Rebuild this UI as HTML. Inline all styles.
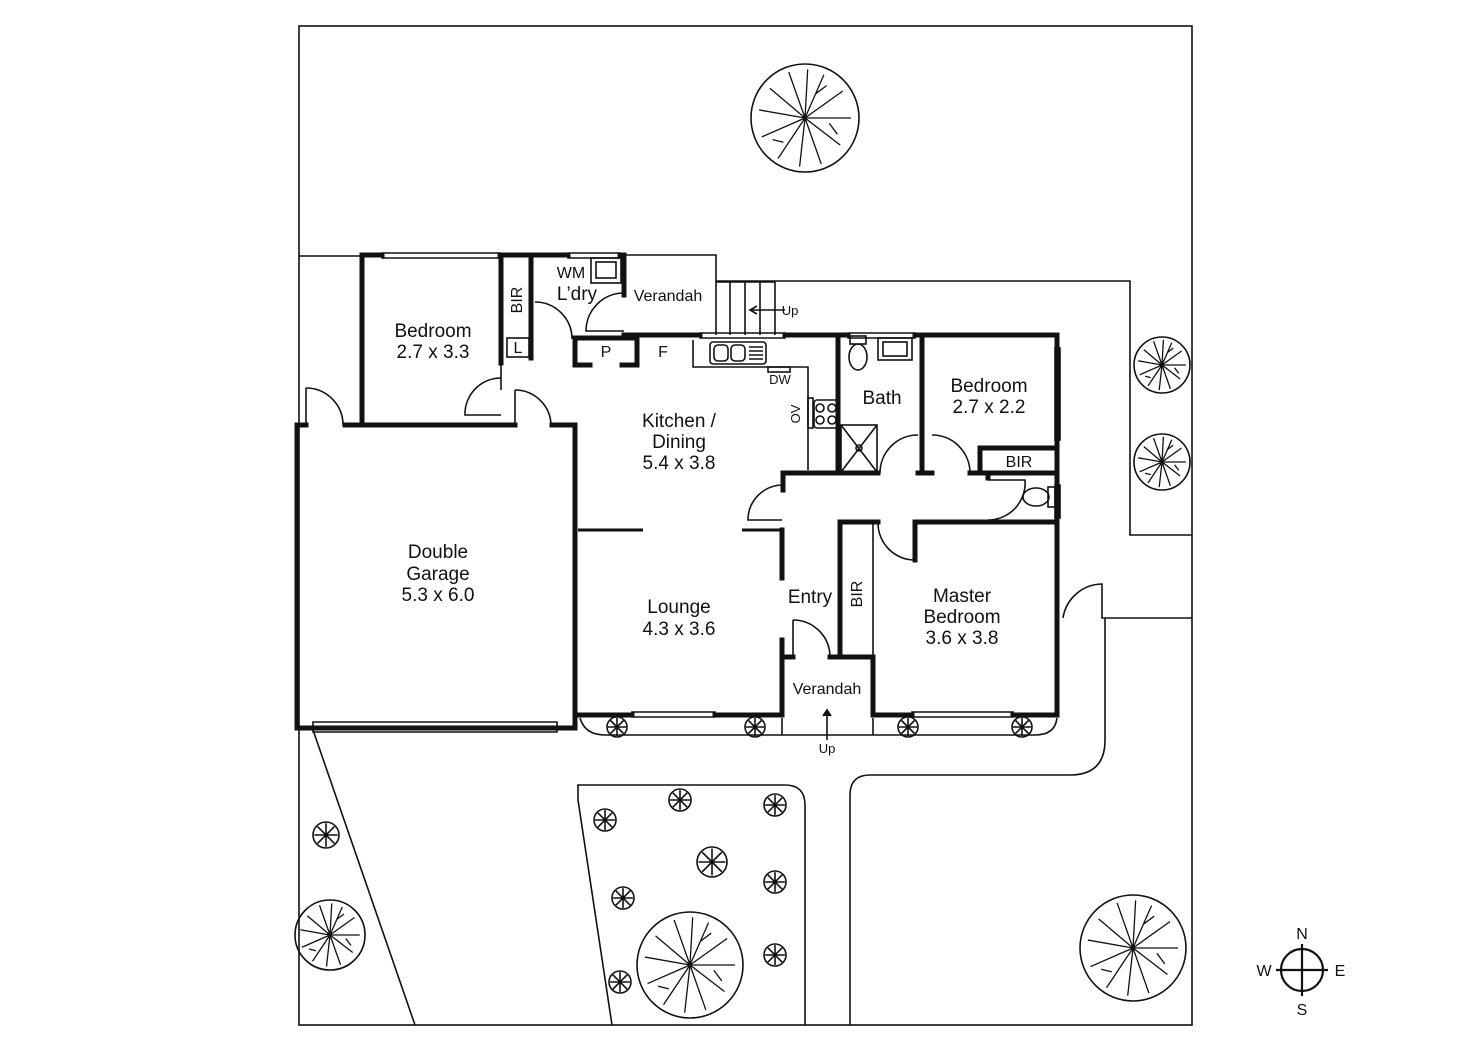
<!DOCTYPE html>
<html><head><meta charset="utf-8"><style>
html,body{margin:0;padding:0;background:#fff}
svg{display:block}
text{font-family:"Liberation Sans",Arial,sans-serif;fill:#111}
</style></head><body>
<svg width="1472" height="1041" viewBox="0 0 1472 1041" xmlns="http://www.w3.org/2000/svg">
<defs>
<g id="tree">
<circle r="1" fill="none" stroke="#111" stroke-width="1.6" vector-effect="non-scaling-stroke"/>
<g stroke="#111" stroke-width="1.3" fill="none" vector-effect="non-scaling-stroke">
<path vector-effect="non-scaling-stroke" d="M0 0L-0.3-0.85M0 0L0.05-0.9M0 0L0.35-0.8M0 0L0.7-0.5M0 0L0.85 0M0 0L0.65 0.5M0 0L0.3 0.85M0 0L-0.1 0.9M0 0L-0.5 0.75M0 0L-0.8 0.35M0 0L-0.85-0.15M0 0L-0.65-0.55M0.2-0.45L0.4-0.6M-0.4 0.45L-0.6 0.4M0.45 0.1L0.6 0.3"/>
</g>
</g>
<g id="shrub">
<circle r="1" fill="none" stroke="#111" stroke-width="1.6" vector-effect="non-scaling-stroke"/>
<path vector-effect="non-scaling-stroke" stroke="#111" stroke-width="1.6" d="M-0.9 0H0.9M0-0.9V0.9M-0.65-0.65L0.65 0.65M-0.65 0.65L0.65-0.65"/>
</g>
</defs>
<g fill="none" stroke="#111" stroke-width="1.6">
<rect x="299" y="26" width="893" height="999"/>
<path d="M299 256H362"/>
<path d="M716 281H1130V535H1192"/>
<path d="M1063 618A40 40 0 0 1 1102 584V618H1192"/>
<path d="M1105 618V740Q1105 775 1070 775H870Q850 775 850 795V1025"/>
<path d="M612 1025L578 800V785H785Q805 785 805 805V1025"/>
<path d="M313 730L415 1025"/>
<path d="M580 718Q585 735 605 735H1035Q1055 735 1057 718"/>
<path d="M782 718V735M873 718V735"/>
<path d="M827 712V740"/>
<path d="M823 716L827 710L831 716" fill="#111"/>
<path d="M624 255H716V335"/>
<path d="M716 282H775V335M730 282V335M745 282V335M760 282V335"/>
<path d="M785 310H752M757 306L750 310L757 314" />
<path d="M313 722H557V732H313Z"/>
<path d="M382 253H500V258H382Z M568 253H620V258H568Z M700 333H785V338H700Z M848 333H915V338H848Z M632 712H715V717H632Z M912 712H1013V717H912Z M1055 348V440H1060V348Z M1055 485V518H1060V485Z"/>
<path d="M306 388A37 37 0 0 1 343 425"/>
<path d="M306 388V425"/>
<path d="M501 378A36 36 0 0 0 465 415H501"/>
<path d="M515 390A36 36 0 0 1 551 425"/>
<path d="M515 390V425"/>
<path d="M535 302A37 37 0 0 1 572 339"/>
<path d="M624 293A38 38 0 0 0 586 331H624"/>
<path d="M782 485A35 35 0 0 0 748 520H782"/>
<path d="M918 435A38 38 0 0 0 880 473"/>
<path d="M932 435A38 38 0 0 1 970 473"/>
<path d="M988 520A37 37 0 0 0 1025 480H988"/>
<path d="M878 522A37 37 0 0 0 915 560V522"/>
<path d="M793 620A37 37 0 0 1 830 657"/>
<path d="M793 620V657"/>
<path d="M693 340V367H808V470"/>
<rect x="710" y="342" width="56" height="22" rx="3"/>
<rect x="714" y="345" width="14" height="16" rx="4"/>
<rect x="731" y="345" width="14" height="16" rx="4"/>
<path d="M749 347H763M749 351H763M749 355H763M749 359H763"/>
<rect x="768" y="367" width="22" height="5"/>
<rect x="814" y="400" width="24" height="28" rx="3"/>
<circle cx="820" cy="408" r="4"/><circle cx="832" cy="408" r="4"/><circle cx="820" cy="420" r="4"/><circle cx="832" cy="420" r="4"/>
<rect x="808" y="398" width="5" height="30"/>
<ellipse cx="858" cy="357" rx="9" ry="13"/>
<rect x="850" y="336" width="16" height="8"/>
<rect x="878" y="338" width="34" height="22"/><rect x="883" y="342" width="24" height="14"/>
<rect x="841" y="425" width="36" height="47"/>
<path d="M841 425L877 472M877 425L841 472"/>
<circle cx="859" cy="448" r="3"/>
<ellipse cx="1036" cy="497" rx="13" ry="9"/>
<rect x="1048" y="487" width="7" height="20"/>
<rect x="591" y="258" width="30" height="25"/><rect x="596" y="262" width="20" height="16"/>
<path d="M873 524V657"/>
<path d="M501 256V390"/>
<rect x="507" y="338" width="22" height="19"/>
<circle cx="1302" cy="970" r="21" stroke-width="2.2"/>
<path d="M1302 944V996M1276 970H1328" stroke-width="2.2"/>
</g>
<g fill="none" stroke="#111" stroke-width="5" stroke-linecap="square">
<path d="M362 255H382M500 255H568M620 255H624V295"/>
<path d="M362 255V423"/>
<path d="M297 425V728H575V425H552M515 425H345"/>
<path d="M297 425H306"/>
<path d="M501 256V363M531 256V358"/>
<path d="M575 338H637V365M575 338V365H590M622 365H637"/>
<path d="M624 335H700M785 335H848M915 335H1057V715H1013M912 715H873V657H830M793 657H782V715H715M632 715H575"/>
<path d="M838 335V472M922 335V473"/>
<path d="M783 473H878M918 473H932M970 473H1055"/>
<path d="M783 473V490"/>
<path d="M980 448H1055M980 448V473"/>
<path d="M988 473V478"/>
<path d="M840 522H878M915 522H1055M915 522V560"/>
<path d="M840 522V655"/>
<path d="M782 530V578M782 640V657"/>
</g>
<g stroke="#111" stroke-width="3" fill="none">
<path d="M578 530H643M742 530H782"/>
</g>
<use href="#tree" transform="translate(805,118) scale(54)"/>
<use href="#tree" transform="translate(1162,365) scale(28)"/>
<use href="#tree" transform="translate(1162,462) scale(28)"/>
<use href="#tree" transform="translate(330,935) scale(35)"/>
<use href="#tree" transform="translate(690,965) scale(53)"/>
<use href="#tree" transform="translate(1133,948) scale(53)"/>
<use href="#shrub" transform="translate(326,835) scale(13)"/>
<use href="#shrub" transform="translate(680,800) scale(11)"/>
<use href="#shrub" transform="translate(775,805) scale(11)"/>
<use href="#shrub" transform="translate(605,820) scale(11)"/>
<use href="#shrub" transform="translate(712,862) scale(15)"/>
<use href="#shrub" transform="translate(775,882) scale(11)"/>
<use href="#shrub" transform="translate(623,898) scale(11)"/>
<use href="#shrub" transform="translate(775,955) scale(11)"/>
<use href="#shrub" transform="translate(620,982) scale(11)"/>
<use href="#shrub" transform="translate(617,727) scale(10)"/>
<use href="#shrub" transform="translate(755,727) scale(10)"/>
<use href="#shrub" transform="translate(908,727) scale(10)"/>
<use href="#shrub" transform="translate(1022,727) scale(10)"/>
<g font-size="19" text-anchor="middle">
<text x="433" y="337">Bedroom</text><text x="433" y="358">2.7 x 3.3</text>
<text x="438" y="558">Double</text><text x="438" y="580">Garage</text><text x="438" y="601">5.3 x 6.0</text>
<text x="679" y="427">Kitchen /</text><text x="679" y="448">Dining</text><text x="679" y="469">5.4 x 3.8</text>
<text x="679" y="613">Lounge</text><text x="679" y="635">4.3 x 3.6</text>
<text x="989" y="392">Bedroom</text><text x="989" y="413">2.7 x 2.2</text>
<text x="962" y="602">Master</text><text x="962" y="623">Bedroom</text><text x="962" y="644">3.6 x 3.8</text>
<text x="882" y="404">Bath</text>
<text x="810" y="603">Entry</text>
<text x="577" y="300">L’dry</text>
</g>
<g font-size="16" text-anchor="middle">
<text x="668" y="301">Verandah</text>
<text x="827" y="694">Verandah</text>
<text x="571" y="278">WM</text>
<text x="606" y="357">P</text>
<text x="663" y="357">F</text>
<text x="1019" y="467">BIR</text>
<text x="518" y="353">L</text>
<text transform="translate(522,300) rotate(-90)">BIR</text>
<text transform="translate(862,594) rotate(-90)">BIR</text>
</g>
<g font-size="13" text-anchor="middle">
<text x="780" y="384">DW</text>
<text x="790" y="315">Up</text>
<text x="827" y="753">Up</text>
<text transform="translate(800,414) rotate(-90)">OV</text>
</g>
<g font-size="16" text-anchor="middle">
<text x="1302" y="939">N</text><text x="1302" y="1015">S</text>
<text x="1264" y="976">W</text><text x="1340" y="976">E</text>
</g>
</svg>
</body></html>
